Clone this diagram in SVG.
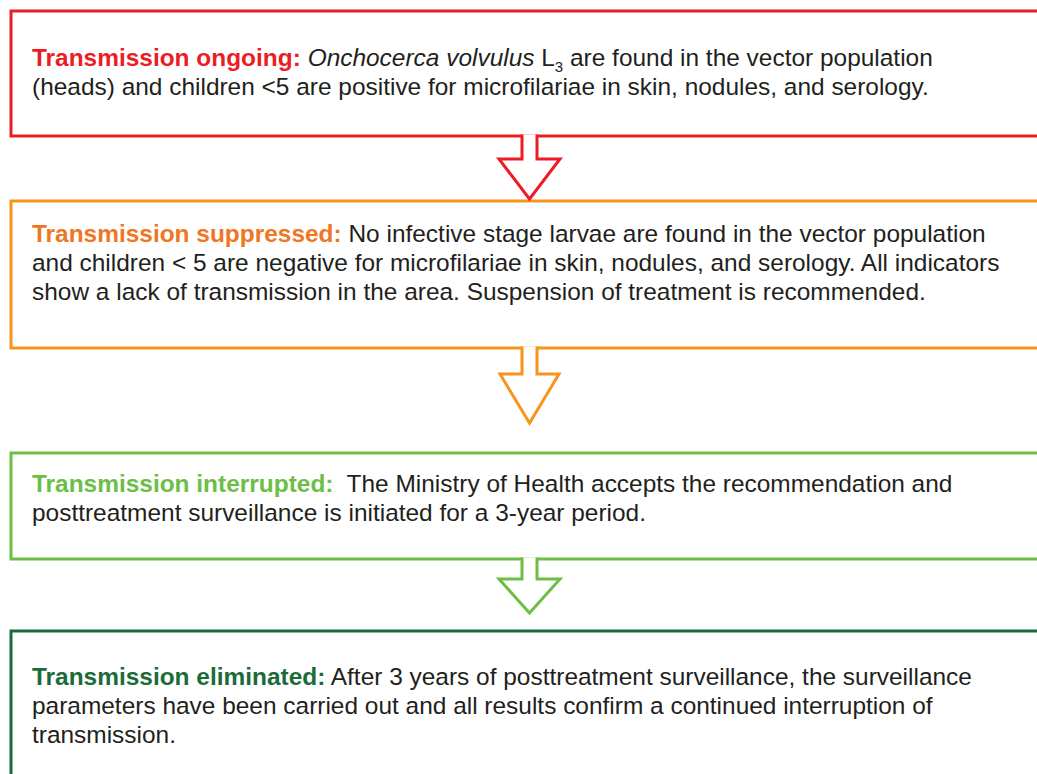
<svg xmlns="http://www.w3.org/2000/svg" width="1037" height="774" viewBox="0 0 1037 774">
<style>
.box{fill:#fff;stroke-width:3}
.arr{fill:#fff;stroke-width:3;stroke-linejoin:miter}
.t{font-family:"Liberation Sans",Arial,sans-serif;font-size:24.45px;fill:#231f20}
.b{font-weight:bold}
</style>
<rect width="1037" height="774" fill="#fff"/>
<g id="node1">
<rect class="box" x="11" y="11" width="1040" height="125" stroke="#ed1c24"/>
<text class="t" x="32" y="66"><tspan class="b" fill="#ed1c24">Transmission ongoing:</tspan> <tspan font-style="italic">Onchocerca volvulus</tspan> L<tspan dy="6" font-size="15">3</tspan><tspan dy="-6"> are found in the vector population</tspan></text>
<text class="t" x="32" y="95">(heads) and children &lt;5 are positive for microfilariae in skin, nodules, and serology.</text>
</g>
<g id="node2">
<rect class="box" x="11" y="201" width="1040" height="147" stroke="#f7941d"/>
<text class="t" x="32" y="242"><tspan class="b" fill="#ef7622">Transmission suppressed:</tspan> No infective stage larvae are found in the vector population</text>
<text class="t" x="32" y="271">and children &lt; 5 are negative for microfilariae in skin, nodules, and serology. All indicators</text>
<text class="t" x="32" y="300">show a lack of transmission in the area. Suspension of treatment is recommended.</text>
</g>
<g id="node3">
<rect class="box" x="11" y="453" width="1040" height="106" stroke="#6cbe45"/>
<text class="t" x="32" y="492" xml:space="preserve"><tspan class="b" fill="#6cbe45">Transmission interrupted:</tspan>  The Ministry of Health accepts the recommendation and</text>
<text class="t" x="32" y="521">posttreatment surveillance is initiated for a 3-year period.</text>
</g>
<g id="node4">
<rect class="box" x="11" y="631" width="1040" height="160" stroke="#1b6b3a"/>
<text class="t" x="32" y="685"><tspan class="b" fill="#1b6b3a">Transmission eliminated:</tspan> After 3 years of posttreatment surveillance, the surveillance</text>
<text class="t" x="32" y="714">parameters have been carried out and all results confirm a continued interruption of</text>
<text class="t" x="32" y="743">transmission.</text>
</g>
<g id="connectors">
<path class="arr" stroke="#ed1c24" d="M522,134.5 V159 H499 L529.5,199 L560,159 H537 V134.5"/>
<path class="arr" stroke="#f7941d" d="M522,346.5 V374 H500 L529.5,423 L559,374 H537 V346.5"/>
<path class="arr" stroke="#6cbe45" d="M522,557.5 V579 H499 L529.5,613 L560,579 H537 V557.5"/>
</g>
</svg>
